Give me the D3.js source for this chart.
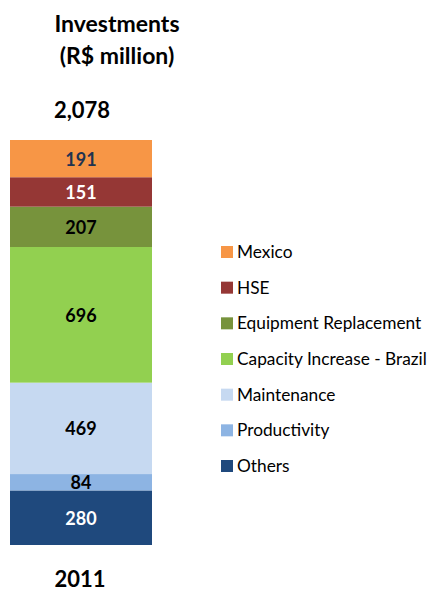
<!DOCTYPE html>
<html><head><meta charset="utf-8">
<script src="https://cdn.jsdelivr.net/npm/d3@7"></script>
<style>body{margin:0;background:#fff}svg{display:block}</style>
</head><body>
<script>
const categories = ["Others","Productivity","Maintenance","Capacity Increase - Brazil","Equipment Replacement","HSE","Mexico"];
const values = [280,84,469,696,207,151,191];
const colors = ["#1F497D","#8DB4E3","#C6D9F1","#92D050","#77933C","#953735","#F79646"];
const labelColors = ["#ffffff","#000000","#000000","#000000","#000000","#ffffff","#1F3350"];
const year = "2011";
const totalLabel = "2,078";
const titleLines = ["Investments","(R$ million)"];

const W=433,H=591;
const svg=d3.select("body").append("svg").attr("width",W).attr("height",H);
const font="Lato, 'Open Sans', sans-serif";
const total=d3.sum(values);
const y=d3.scaleLinear().domain([0,total]).range([545,140]);
const x=d3.scaleBand().domain([year]).range([10,152]).padding(0);

let cum=0;
const stack=values.map((v,i)=>{const s={v,i,y0:cum,y1:cum+v};cum+=v;return s;});

svg.selectAll("rect.seg").data(stack).enter().append("rect")
 .attr("x",x(year)).attr("width",x.bandwidth())
 .attr("y",d=>y(d.y1)).attr("height",d=>y(d.y0)-y(d.y1))
 .attr("fill",d=>colors[d.i]);

svg.selectAll("text.lab").data(stack).enter().append("text")
 .attr("x",x(year)+x.bandwidth()/2).attr("y",d=>(y(d.y0)+y(d.y1))/2+7)
 .attr("text-anchor","middle").attr("font-family",font).attr("font-weight","bold")
 .attr("font-size",18).attr("fill",d=>labelColors[d.i]).text(d=>d3.format(",")(d.v));

const cx=x(year)+x.bandwidth()/2;
svg.append("text").attr("x",117).attr("y",32).attr("text-anchor","middle").attr("font-family",font)
 .attr("font-weight","bold").attr("font-size",23).text(titleLines[0]);
svg.append("text").attr("x",117).attr("y",64).attr("text-anchor","middle").attr("font-family",font)
 .attr("font-weight","bold").attr("font-size",23).text(titleLines[1]);
svg.append("text").attr("x",cx+1).attr("y",118).attr("text-anchor","middle").attr("font-family",font)
 .attr("font-weight","bold").attr("font-size",22).text(totalLabel);
svg.append("text").attr("x",cx-1).attr("y",587).attr("text-anchor","middle").attr("font-family",font)
 .attr("font-weight","bold").attr("font-size",22).text(year);

const legendOrder=d3.range(categories.length).reverse();
const ly=d3.scalePoint().domain(legendOrder).range([246,460]);
const lg=svg.selectAll("g.leg").data(legendOrder).enter().append("g")
 .attr("transform",d=>`translate(221,${ly(d)})`);
lg.append("rect").attr("width",12).attr("height",12).attr("fill",d=>colors[d]);
lg.append("text").attr("x",16).attr("y",12).attr("font-family",font).attr("font-size",17.3)
 .attr("fill","#000").text(d=>categories[d]);
</script>
</body></html>
